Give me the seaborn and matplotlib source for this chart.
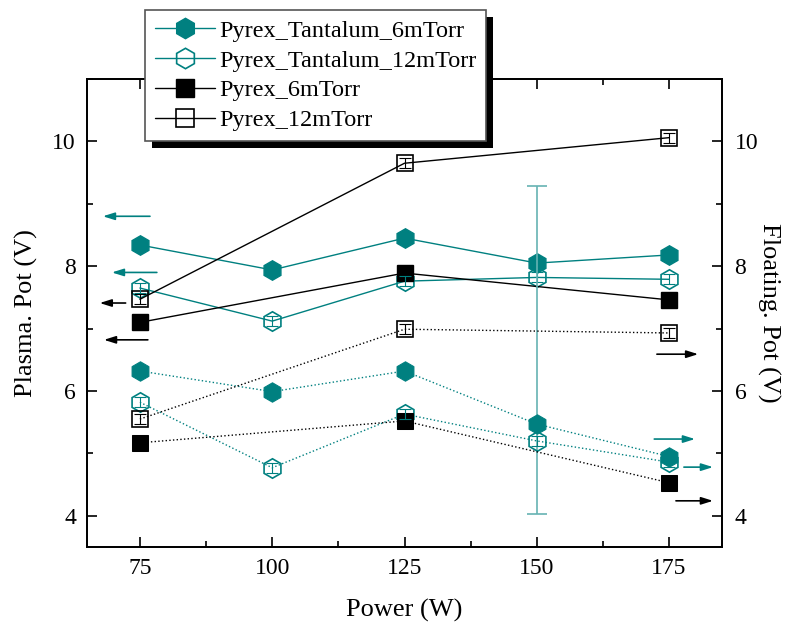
import numpy as np
import matplotlib
matplotlib.use("Agg")
import matplotlib.pyplot as plt
from matplotlib.patches import Rectangle
from matplotlib.ticker import MultipleLocator
import seaborn as sns

sns.set_style("ticks")
plt.rcParams['font.family'] = ['Liberation Serif', 'DejaVu Serif']
plt.rcParams['text.color'] = 'black'
plt.rcParams['axes.labelcolor'] = 'black'
plt.rcParams['xtick.color'] = 'black'
plt.rcParams['ytick.color'] = 'black'
plt.rcParams['axes.edgecolor'] = 'black'

TEAL = "#008080"

power5 = [75, 100, 125, 150, 175]
power3 = [75, 125, 175]

# plasma potential (left axis, solid lines)
ta6_plasma = [8.34, 7.94, 8.45, 8.05, 8.18]
ta12_plasma = [7.65, 7.12, 7.76, 7.82, 7.79]
py6_plasma = [7.10, 7.89, 7.46]
py12_plasma = [7.47, 9.65, 10.06]

# floating potential (right axis, dotted lines)
ta6_float = [6.32, 5.99, 6.32, 5.47, 4.95]
ta12_float = [5.82, 4.77, 5.63, 5.20, 4.86]
py6_float = [5.17, 5.52, 4.53]
py12_float = [5.55, 6.99, 6.93]

# small error bars on 12 mTorr points
ta12_err = [0.08, 0.08, 0.08, 0.08, 0.08]
py12_err = [0.08, 0.08, 0.08]

# big error bar at 150 W (floating, Ta 6 mTorr)
big_err_x = [150]
big_err_lo = [1.44]
big_err_hi = [3.81]

labels = ["Pyrex_Tantalum_6mTorr", "Pyrex_Tantalum_12mTorr",
          "Pyrex_6mTorr", "Pyrex_12mTorr"]

fig = plt.figure(figsize=(7.92, 6.23), dpi=100)
ax = fig.add_axes([87/792, 1-547/623, (722-87)/792, (547-79)/623])
ax2 = ax.twinx()

hex_ms = 14
sq_ms = 12

# solid (plasma) series
h1, = ax.plot(power5, ta6_plasma, color=TEAL, lw=1, marker='h', ms=hex_ms,
              mfc=TEAL, mec=TEAL)
ax.errorbar(power5, ta12_plasma, yerr=ta12_err, fmt='none', ecolor=TEAL,
            elinewidth=0.8, capsize=4, capthick=0.8, zorder=4)
h2, = ax.plot(power5, ta12_plasma, color=TEAL, lw=1, marker='h', ms=hex_ms,
              mfc='none', mec=TEAL, mew=1.2)
h3, = ax.plot(power3, py6_plasma, color='black', lw=1, marker='s', ms=sq_ms,
              mfc='black', mec='black')
ax.errorbar(power3, py12_plasma, yerr=py12_err, fmt='none', ecolor='black',
            elinewidth=0.8, capsize=4, capthick=0.8, zorder=4)
h4, = ax.plot(power3, py12_plasma, color='black', lw=1, marker='s', ms=sq_ms,
              mfc='none', mec='black', mew=1.2)

# dotted (floating) series
ax2.errorbar(big_err_x, [ta6_float[3]], yerr=[big_err_lo, big_err_hi], fmt='none',
             ecolor="#66b3b3", elinewidth=1.2, capsize=7, capthick=1.2)
sns.lineplot(x=power5, y=ta6_float, ax=ax2, color=TEAL, lw=1, ls=':',
             marker='h', ms=hex_ms, mfc=TEAL, mec=TEAL)
ax2.errorbar(power5, ta12_float, yerr=ta12_err, fmt='none', ecolor=TEAL,
             elinewidth=0.8, capsize=4, capthick=0.8, zorder=4)
sns.lineplot(x=power5, y=ta12_float, ax=ax2, color=TEAL, lw=1, ls=':',
             marker='h', ms=hex_ms, mfc='none', mec=TEAL, mew=1.2)
sns.lineplot(x=power3, y=py6_float, ax=ax2, color='black', lw=1, ls=':',
             marker='s', ms=sq_ms, mfc='black', mec='black')
ax2.errorbar(power3, py12_float, yerr=py12_err, fmt='none', ecolor='black',
             elinewidth=0.8, capsize=4, capthick=0.8, zorder=4)
sns.lineplot(x=power3, y=py12_float, ax=ax2, color='black', lw=1, ls=':',
             marker='s', ms=sq_ms, mfc='none', mec='black', mew=1.2)

# axis direction arrows
arrows = [
    (ax, 76.9, 68.0, 8.80, TEAL),
    (ax, 78.2, 69.7, 7.90, TEAL),
    (ax, 72.3, 67.4, 7.41, 'black'),
    (ax, 76.5, 68.2, 6.82, 'black'),
    (ax2, 172.7, 180.5, 6.59, 'black'),
    (ax2, 172.2, 179.9, 5.23, TEAL),
    (ax2, 177.8, 183.3, 4.78, TEAL),
    (ax2, 176.3, 183.3, 4.24, 'black'),
]
for a, x0, x1, yy, c in arrows:
    a.annotate("", xy=(x1, yy), xytext=(x0, yy),
               arrowprops=dict(arrowstyle='-|>,head_length=0.7,head_width=0.22',
                               color=c, lw=1.2, shrinkA=0, shrinkB=0))

for a in (ax, ax2):
    a.set_xlim(65, 185)
    a.set_ylim(3.5, 11)
    a.yaxis.set_major_locator(MultipleLocator(2))
    a.yaxis.set_minor_locator(MultipleLocator(1))
ax.xaxis.set_major_locator(MultipleLocator(25))
ax.xaxis.set_minor_locator(MultipleLocator(12.5))

ax.tick_params(which='both', direction='in', top=True, right=False,
               labelsize=17, width=1.2, pad=8)
ax.tick_params(which='major', length=7)
ax.tick_params(which='minor', length=4)
ax2.tick_params(which='both', direction='in', labelsize=17, width=1.2, pad=9)
ax2.tick_params(which='major', length=7)
ax2.tick_params(which='minor', length=4)
for a in (ax, ax2):
    for s in a.spines.values():
        s.set_linewidth(1.3)
        s.set_visible(True)

ax.set_xlabel("Power (W)", fontsize=19, labelpad=14)
ax.set_ylabel("Plasma. Pot (V)", fontsize=19, labelpad=10)
ax2.set_ylabel("Floating. Pot (V)", fontsize=19, rotation=270, labelpad=16)
ax2.set_xlabel("")

leg = fig.legend([h1, h2, h3, h4], labels, loc='upper left',
                 bbox_to_anchor=(145/792, 1-10/623), borderaxespad=0,
                 fontsize=17.5, fancybox=False, framealpha=1, edgecolor='#555555',
                 handlelength=2.5, handletextpad=0.15, labelspacing=0.32,
                 borderpad=0.4, markerscale=1.05)
leg.get_frame().set_linewidth(1.2)
leg.set_zorder(10)

fig.canvas.draw()
bb = leg.get_window_extent().transformed(fig.transFigure.inverted())
dx, dy = 7/792, 7/623
fig.patches.append(Rectangle((bb.x0 + dx, bb.y0 - dy), bb.width, bb.height,
                             transform=fig.transFigure, facecolor='black',
                             edgecolor='none', zorder=9))

fig.savefig("out.png", dpi=100)
